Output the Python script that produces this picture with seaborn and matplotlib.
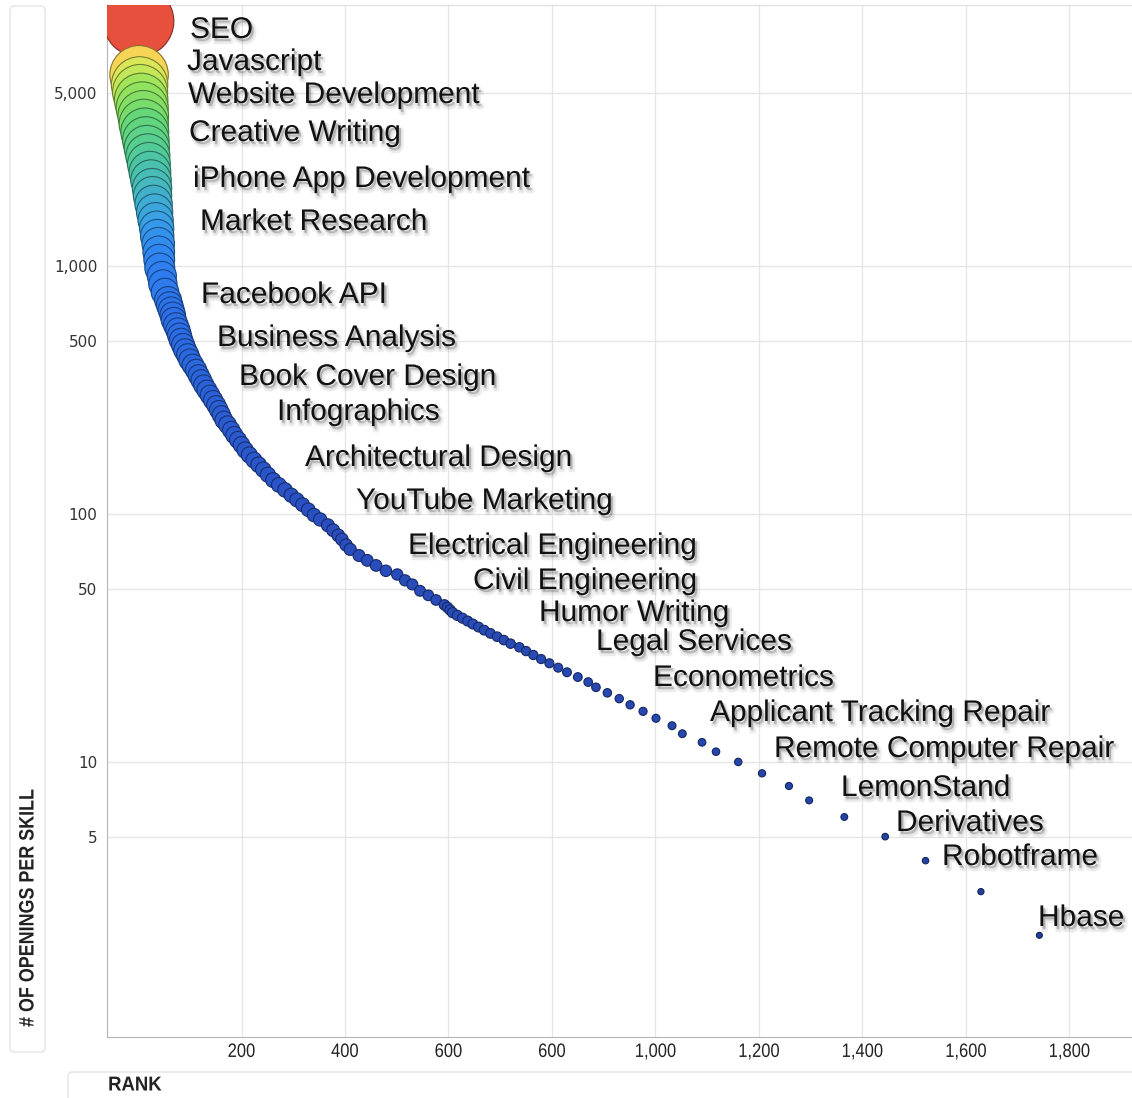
import numpy as np
import pandas as pd
import matplotlib
matplotlib.use("Agg")
import matplotlib.pyplot as plt
import matplotlib.colors as mcolors
import matplotlib.patheffects as pe
from matplotlib.patches import FancyBboxPatch
from matplotlib.transforms import Affine2D
import seaborn as sns

# Data: rank vs number of openings per skill
head_rank = [1, 2, 3, 4, 6, 8, 10, 11, 13, 15, 17, 19, 21, 23, 25, 27, 28, 30, 32, 34,
             36, 37, 39, 40, 41, 42, 46, 48, 52, 58]
head_openings = [9700, 5900, 5370, 5030, 4670, 4340, 4030, 3740, 3470, 3220,
                 2990, 2780, 2580, 2390, 2220, 2060, 1920, 1780, 1650, 1530,
                 1420, 1320, 1230, 1140, 1060, 981, 911, 846, 785, 729]

body_rank = [61, 64, 67, 69, 73, 77, 80, 83, 87, 91, 96, 100, 106, 112, 117, 122, 127,
             133, 139, 145, 151, 156, 161, 166, 173, 180, 186, 193, 200, 207, 215, 224,
             233, 242, 251, 261, 272, 284, 296, 307, 318, 329, 340, 352, 367, 377, 387,
             394, 402, 410, 427, 443, 460, 479, 501, 516, 530, 545, 561, 576, 592]
body_openings = [696, 665, 635, 606, 578, 552, 527, 503, 480, 458, 438, 418, 399, 381,
                 363, 347, 331, 316, 302, 288, 275, 263, 251, 239, 229, 218, 208, 199,
                 190, 181, 173, 165, 158, 151, 144, 137, 131, 125, 119, 114, 109, 104,
                 99, 95, 90, 86, 82, 79, 75, 72, 68, 65, 62, 59, 57, 54, 52, 49, 47, 45, 43]

tail_rank = [598, 603, 608, 617, 627, 637, 647, 658, 669, 681, 694, 707, 720, 737, 750,
             764, 779, 795, 812, 829, 850, 870, 885, 907, 930, 951, 976, 1001, 1032,
             1052, 1090, 1117, 1160, 1206, 1258, 1297, 1365, 1444, 1522, 1629, 1742]
tail_openings = [42, 41, 40, 39, 38, 37, 36, 35, 34, 33, 32, 31, 30, 29, 28, 27, 26, 25,
                 24, 23, 22, 21, 20, 19, 18, 17, 16, 15, 14, 13, 12, 11, 10, 9, 8, 7, 6,
                 5, 4, 3, 2]

skill_labels = ["SEO", "Javascript", "Website Development", "Creative Writing",
                "iPhone App Development", "Market Research", "Facebook API",
                "Business Analysis", "Book Cover Design", "Infographics",
                "Architectural Design", "YouTube Marketing", "Electrical Engineering",
                "Civil Engineering", "Humor Writing", "Legal Services", "Econometrics",
                "Applicant Tracking Repair", "Remote Computer Repair", "LemonStand",
                "Derivatives", "Robotframe", "Hbase"]

x_ticks = [200, 400, 600, 800, 1000, 1200, 1400, 1600, 1800]
x_ticklabels = ["200", "400", "600", "600", "1,000", "1,200", "1,400", "1,600", "1,800"]
y_ticks = [5, 10, 50, 100, 500, 1000, 5000]
y_ticklabels = ["5", "10", "50", "100", "500", "1,000", "5,000"]

df = pd.DataFrame({
    "rank": head_rank + body_rank + tail_rank,
    "openings": head_openings + body_openings + tail_openings,
})

# layout: label anchor (left x, baseline y) in image pixels
W, H = 1132, 1098
AX_L, AX_R, AX_T, AX_B = 107, 1132, 5, 1037
label_px = [(190, 38), (187, 70), (188, 103), (189, 141), (193, 187), (200, 230),
            (201, 303), (217, 346), (239, 385), (277, 420), (305, 466), (356, 509),
            (408, 554), (473, 589), (539, 621), (596, 650), (653, 686), (710, 721),
            (774, 757), (841, 796), (896, 831), (942, 865), (1038, 926)]


class Condense(pe.AbstractPathEffect):
    """squeeze text along its baseline to fake a narrow face"""
    def __init__(self, sx=0.85, anchor="center"):
        super().__init__()
        self.sx = sx
        self.anchor = anchor

    def draw_path(self, renderer, gc, tpath, affine, rgbFace=None):
        ext = tpath.get_extents()
        cx = (ext.x0 + ext.x1) / 2 if self.anchor == "center" else ext.x0
        t = Affine2D().translate(-cx, 0).scale(self.sx, 1).translate(cx, 0) + affine
        renderer.draw_path(gc, tpath, t, rgbFace)


sns.set_style("white")

fig = plt.figure(figsize=(W / 100, H / 100), dpi=100)
ax = fig.add_axes([AX_L / W, (H - AX_B) / H, (AX_R - AX_L) / W, (AX_B - AX_T) / H])

cmap = mcolors.LinearSegmentedColormap.from_list("skills", [
    (0.0, "#22409a"), (0.45, "#2a4ec0"), (0.58, "#2b5fd5"), (0.68, "#2c72ea"),
    (0.74, "#2f86f2"), (0.775, "#38a0e6"), (0.81, "#45b8c0"), (0.84, "#4ec8a0"),
    (0.88, "#66d874"), (0.91, "#98e45a"), (0.93, "#cfe858"), (0.942, "#f6dc58"),
    (0.97, "#f09048"), (1.0, "#e8503e")])

sns.scatterplot(data=df, x="rank", y="openings", hue="openings", palette=cmap,
                hue_norm=mcolors.LogNorm(2, 9700), size="openings", sizes=(14.5, 2580),
                size_norm=mcolors.PowerNorm(gamma=0.76, vmin=0, vmax=9700),
                linewidth=0.8, legend=False, ax=ax, zorder=3)

coll = ax.collections[0]
fc = coll.get_facecolors()
ec = fc.copy()
ec[:, :3] *= 0.55
coll.set_edgecolors(ec)

ax.set_yscale("log")
ax.set_xlim(-60, 1921)
ax.set_ylim(0.778, 11280)
ax.set_xticks(x_ticks)
ax.set_xticklabels(x_ticklabels, family="Liberation Sans", fontsize=14, color="#222222")
for lab in ax.get_xticklabels():
    lab.set_path_effects([Condense(0.85, "center")])
ax.set_yticks(y_ticks)
ax.set_yticklabels(y_ticklabels, fontsize=11, color="#333333")
ax.yaxis.set_minor_locator(matplotlib.ticker.NullLocator())
ax.tick_params(axis="x", length=0, pad=5)
ax.tick_params(axis="y", length=5, width=1, color="#999999", pad=2)
ax.grid(True, color="#e6e6e6", linewidth=1)
ax.set_axisbelow(True)
ax.set_xlabel("")
ax.set_ylabel("")
for side in ["left", "bottom"]:
    ax.spines[side].set_color("#b5b5b5")
ax.spines["top"].set_color("#dddddd")
ax.spines["right"].set_visible(False)

shadow = [pe.Stroke(linewidth=3, foreground="black", alpha=0.07, offset=(2, -3)),
          pe.SimplePatchShadow(offset=(1.5, -2), shadow_rgbFace="black", alpha=0.2),
          pe.Normal()]
for name, (px, py) in zip(skill_labels, label_px):
    ax.text((px - AX_L) / (AX_R - AX_L), 1 - (py - AX_T) / (AX_B - AX_T), name,
            transform=ax.transAxes, ha="left", va="baseline", fontsize=21.5,
            family="Liberation Sans", color="#111111", path_effects=shadow, zorder=5)

# side panels holding the axis titles
fig.patches.append(FancyBboxPatch((10 / W, (H - 1052) / H), 35 / W, 1046 / H,
                                  boxstyle="round,pad=0,rounding_size=0.004",
                                  transform=fig.transFigure, facecolor="white",
                                  edgecolor="#e4e4e4", linewidth=1))
fig.patches.append(FancyBboxPatch((68 / W, -0.01), 1.0, (1098 - 1072) / H + 0.01,
                                  boxstyle="round,pad=0,rounding_size=0.004",
                                  transform=fig.transFigure, facecolor="white",
                                  edgecolor="#e4e4e4", linewidth=1))
fig.text(28 / W, (H - 1027) / H, "# OF OPENINGS PER SKILL", rotation=90, ha="center",
         va="bottom", fontsize=15, fontweight="bold", family="Liberation Sans",
         color="#222222", path_effects=[Condense(0.86, "left")])
fig.text(108 / W, (H - 1085) / H, "RANK", ha="left", va="center", fontsize=14.5,
         fontweight="bold", family="Liberation Sans", color="#222222",
         path_effects=[Condense(0.92, "left")])

fig.savefig("out.png", dpi=100)
